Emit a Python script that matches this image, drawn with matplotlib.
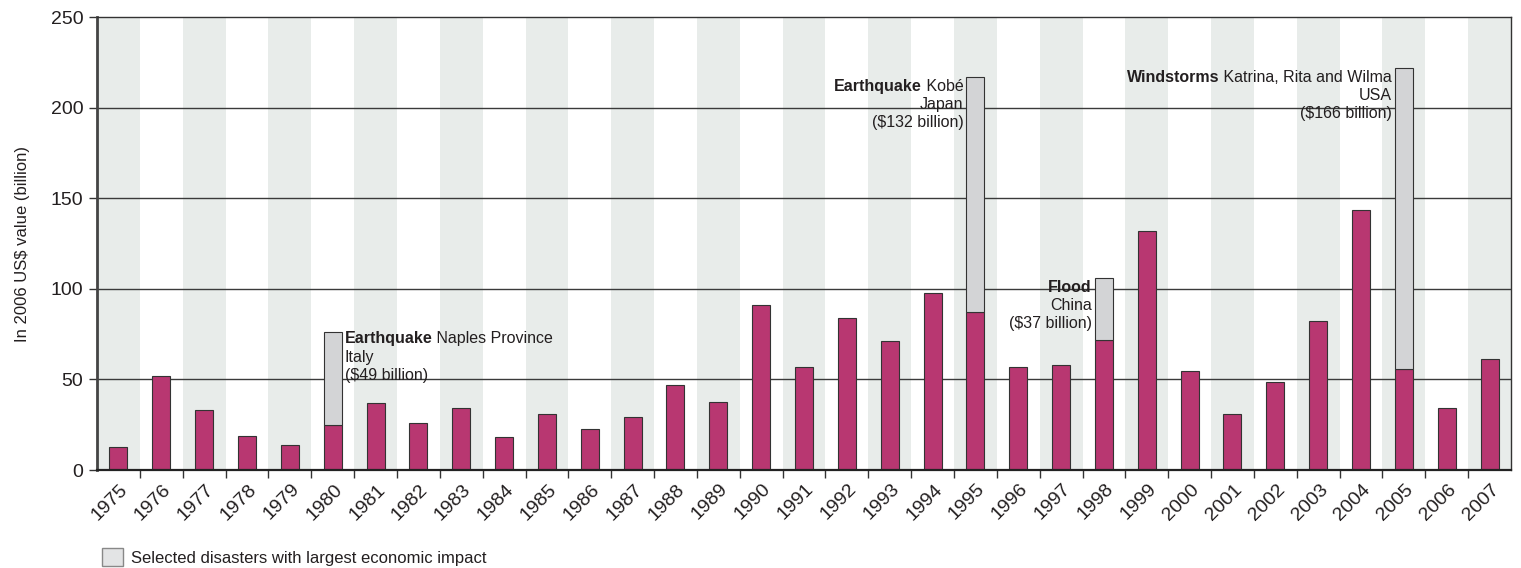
import numpy as np
import matplotlib.pyplot as plt
from matplotlib.patches import Patch
from matplotlib.transforms import ScaledTranslation

plt.rcParams['font.family'] = ['Liberation Sans', 'DejaVu Sans']

years = list(range(1975, 2008))
# total economic damage per year, 2006 US$ billion (excluding selected disasters)
damage = [12.5, 52, 33, 19, 14, 25, 37, 26, 34, 18, 31, 22.5, 29, 47, 37.5,
          91, 57, 84, 71, 97.5, 87, 57, 58, 72, 132, 54.5, 31, 48.5, 82, 143.5,
          56, 34, 61]
# selected disasters stacked on top
selected = {1980: 51, 1995: 130, 1998: 34, 2005: 166}

magenta = '#B83771'
grey = '#D3D4D6'
dark = '#231F20'

fig = plt.figure(figsize=(15.21, 5.68), dpi=100)
ax = fig.add_axes([0.0638, 0.1725, 0.9296, 0.7975])

x = np.arange(len(years))
extra = np.array([selected.get(y, 0) for y in years])

for i in x:
    if i % 2 == 0:
        ax.axvspan(i - 0.5, i + 0.5, color='#E8ECEA', zorder=0, lw=0)

for v in [50, 100, 150, 200]:
    ax.axhline(v, color='#3a3a3a', lw=1, zorder=1)

ax.bar(x, damage, width=0.42, color=magenta, edgecolor='#333333', lw=0.8, zorder=3)
mask = extra > 0
ax.bar(x[mask], extra[mask], bottom=np.array(damage)[mask], width=0.42,
       color=grey, edgecolor='#333333', lw=0.8, zorder=3)

ax.set_xlim(-0.5, len(years) - 0.5)
ax.set_ylim(0, 250)
ax.set_yticks([0, 50, 100, 150, 200, 250])
ax.set_xticks(x)
ax.set_xticks(x[:-1] + 0.5, minor=True)
ax.tick_params(axis='x', which='major', length=0, pad=12)
ax.tick_params(axis='x', which='minor', length=6, width=1, color='#333333')
ax.tick_params(axis='y', length=6, width=1, color='#333333', labelsize=14,
               labelcolor=dark, pad=4)
ax.set_xticklabels([str(y) for y in years], rotation=45, ha='right',
                   va='center', rotation_mode='anchor', fontsize=14, color=dark)
# nudge the year labels to the right (after tick_params, which resets transforms)
shift = ScaledTranslation(7 / 100, 0, fig.dpi_scale_trans)
for lab in ax.get_xticklabels():
    lab.set_transform(lab.get_transform() + shift)
ax.set_ylabel('In 2006 US$ value (billion)', fontsize=12, color=dark, labelpad=15)

for s in ['top', 'right']:
    ax.spines[s].set_color('#333333')
    ax.spines[s].set_linewidth(1)
ax.spines['left'].set_color('#444444')
ax.spines['left'].set_linewidth(2)
ax.spines['bottom'].set_color('#222222')
ax.spines['bottom'].set_linewidth(1.6)
for s in ax.spines.values():
    s.set_zorder(4)


def label(xd, yd, bold, rest, lines, align):
    fs = 11.5
    lh = 13.2
    if not rest:
        ax.text(xd, yd, bold, fontsize=fs, fontweight='bold', color=dark,
                ha=align, va='top', zorder=5)
    elif align == 'left':
        t = ax.text(xd, yd, bold, fontsize=fs, fontweight='bold', color=dark,
                    ha='left', va='top', zorder=5)
        ax.annotate(rest, xy=(1, 0), xycoords=t, ha='left', va='bottom',
                    fontsize=fs, color=dark, zorder=5)
    else:
        t = ax.text(xd, yd, rest, fontsize=fs, color=dark,
                    ha='right', va='top', zorder=5)
        ax.annotate(bold, xy=(0, 0), xycoords=t, ha='right', va='bottom',
                    fontsize=fs, fontweight='bold', color=dark, zorder=5)
    for k, ln in enumerate(lines):
        ax.annotate(ln, xy=(xd, yd), xycoords='data',
                    xytext=(0, -lh * (k + 1)), textcoords='offset points',
                    ha=align, va='top', fontsize=fs, color=dark, zorder=5)


label(5.28, 76.5, 'Earthquake', ' Naples Province', ['Italy', '($49 billion)'], 'left')
label(19.72, 216, 'Earthquake', ' Kobé', ['Japan', '($132 billion)'], 'right')
label(22.72, 105, 'Flood', '', ['China', '($37 billion)'], 'right')
label(29.72, 221, 'Windstorms', ' Katrina, Rita and Wilma', ['USA', '($166 billion)'], 'right')

fig.legend(handles=[Patch(facecolor='#E3E4E5', edgecolor='#888888', lw=1)],
           labels=['Selected disasters with largest economic impact'],
           loc='lower left', bbox_to_anchor=(0.057, -0.023), frameon=False,
           handlelength=1.3, handleheight=1.3, handletextpad=0.45,
           prop={'size': 12}, labelcolor=dark)

fig.savefig('out.png', dpi=100)
